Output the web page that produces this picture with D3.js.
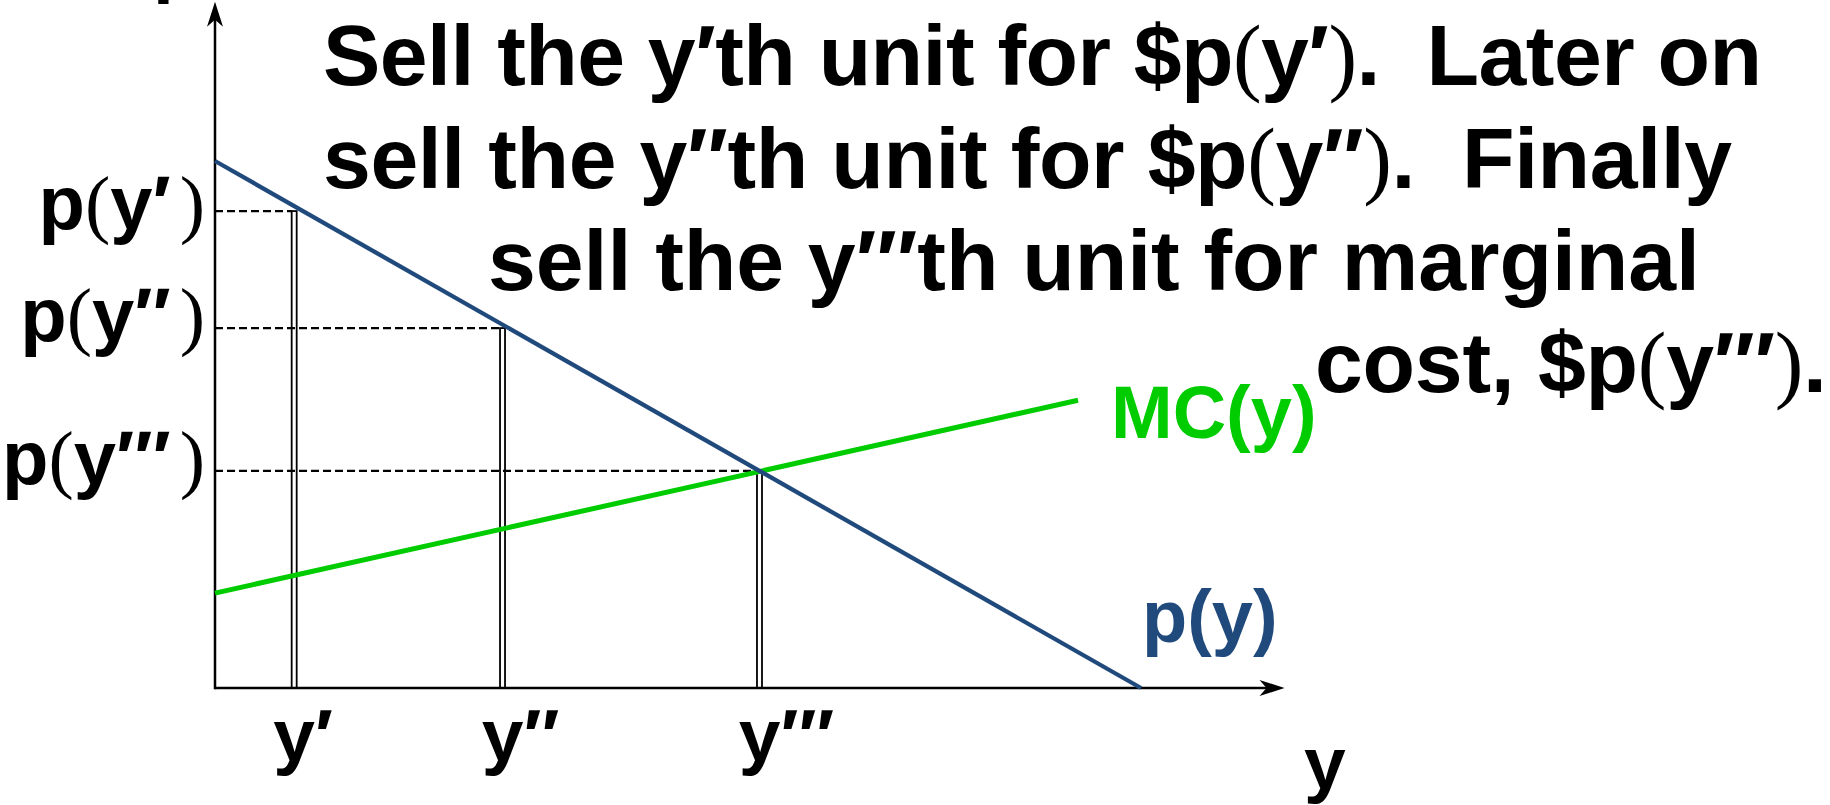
<!DOCTYPE html>
<html>
<head>
<meta charset="utf-8">
<script src="https://cdn.jsdelivr.net/npm/d3@7"></script>
<style>
  html, body { margin: 0; padding: 0; background: #fff; }
  svg { display: block; }
  text { font-family: "Liberation Sans", Arial, sans-serif; font-weight: bold; white-space: pre; }
  .serif { font-family: "Liberation Serif", "Times New Roman", serif; font-weight: normal; }
</style>
</head>
<body>
<svg id="chart" width="1830" height="805"></svg>
<script>
// output y on the horizontal axis, price p on the vertical one
const demandQ = [0, 100]
const demandP = [100, 0]
const mcQ = [0, 93.2]
const mcP = [18.0, 54.6]
const unitQ = [8.55, 31.05, 58.8]   // y', y'', y'''
const unitP = [90.5, 68.3, 41.2]    // p(y'), p(y''), p(y''')
const primes = ['′', '′′', '′′′']
const axisMaxQ = 115.5
const axisMaxP = 130.2

const titleLines = [
  'Sell the y′th unit for $p(y′).  Later on',
  'sell the y′′th unit for $p(y′′).  Finally',
  'sell the y′′′th unit for marginal',
  'cost, $p(y′′′).'
]
const titleX = [323, 323, 488, 1315]
const titleY = [85, 188, 290, 392]
const titleW = [1439, 1409, 1212, 512]

const blue = '#214a7c'
const green = '#00cc00'

const svg = d3.select('#chart')

const x = d3.scaleLinear().domain([0, 100]).range([215, 1141])
const y = d3.scaleLinear().domain([0, 100]).range([688, 161])

// text where the parentheses are set in a serif face
function mixed(sel, str) {
	str.split(/([()])/).filter(s => s).forEach(s => {
		sel.append('tspan').attr('class', /[()]/.test(s) ? 'serif' : null).text(s)
	})
}

// axes
const g = svg.append('g')
g.append('line')
	.attr('x1', x(0)).attr('y1', y(0)).attr('x2', x(axisMaxQ) - 6).attr('y2', y(0))
	.attr('stroke', '#000').attr('stroke-width', 2.5)
g.append('line')
	.attr('x1', x(0)).attr('y1', y(0) + 1.2).attr('x2', x(0)).attr('y2', y(axisMaxP) + 6)
	.attr('stroke', '#000').attr('stroke-width', 2.5)
const head = 'M0,0 L-25,-8 L-18,0 L-25,8 Z'
g.append('path').attr('d', head).attr('fill', '#000')
	.attr('transform', `translate(${x(axisMaxQ)},${y(0)})`)
g.append('path').attr('d', head).attr('fill', '#000')
	.attr('transform', `translate(${x(0)},${y(axisMaxP)}) rotate(-90)`)

// axis names
svg.append('text').attr('x', 153).attr('y', -11).attr('font-size', 75).text('p')
svg.append('text').attr('x', 1304).attr('y', 789).attr('font-size', 75).text('y')

// dashed guides from the price axis
svg.selectAll('.guide').data(unitQ).enter().append('line')
	.attr('class', 'guide')
	.attr('x1', x(0)).attr('x2', d => x(d) - 2.5)
	.attr('y1', (d, i) => y(unitP[i])).attr('y2', (d, i) => y(unitP[i]))
	.attr('stroke', '#000').attr('stroke-width', 2.2).attr('stroke-dasharray', '8,4')

// thin bars for each unit sold
svg.selectAll('.unit').data(unitQ).enter().append('rect')
	.attr('class', 'unit')
	.attr('x', d => x(d) - 2.5).attr('width', 5)
	.attr('y', (d, i) => y(unitP[i])).attr('height', (d, i) => y(0) - y(unitP[i]))
	.attr('fill', 'none').attr('stroke', '#000').attr('stroke-width', 1.8)

// curves
const line = d3.line().x(d => x(d[0])).y(d => y(d[1]))
svg.append('path').datum(d3.zip(mcQ, mcP)).attr('d', line)
	.attr('fill', 'none').attr('stroke', green).attr('stroke-width', 5)
svg.append('path').datum(d3.zip(demandQ, demandP)).attr('d', line)
	.attr('fill', 'none').attr('stroke', blue).attr('stroke-width', 4.3)

svg.append('text').attr('x', 1111).attr('y', 438).attr('font-size', 74)
	.attr('fill', green).text('MC(y)')
svg.append('text').attr('x', 1142).attr('y', 642).attr('font-size', 74)
	.attr('fill', blue).text('p(y)')

// price labels, closing paren set a little apart from the primes
svg.selectAll('.plabel').data(unitP).enter().append('text')
	.attr('class', 'plabel')
	.attr('x', x(0) - 10).attr('y', (d, i) => y(d) + (i === 0 ? 18 : 13))
	.attr('text-anchor', 'end').attr('font-size', 76)
	.each(function(d, i) {
		const t = d3.select(this)
		mixed(t, `p(y${primes[i]})`)
		t.select('tspan:last-child').attr('dx', 9)
	})

// quantity labels: the y sits centred on its bar, primes hang to the right
svg.selectAll('.qlabel').data(unitQ).enter().append('text')
	.attr('class', 'qlabel')
	.attr('x', d => x(d) - 20.8).attr('y', 761).attr('font-size', 75)
	.text((d, i) => 'y' + primes[i])

// the explanation
svg.selectAll('.title').data(titleLines).enter().append('text')
	.attr('class', 'title')
	.attr('x', (d, i) => titleX[i]).attr('y', (d, i) => titleY[i])
	.attr('font-size', 86)
	.attr('textLength', (d, i) => titleW[i]).attr('lengthAdjust', 'spacing')
	.each(function(d) { mixed(d3.select(this), d) })
</script>
</body>
</html>
